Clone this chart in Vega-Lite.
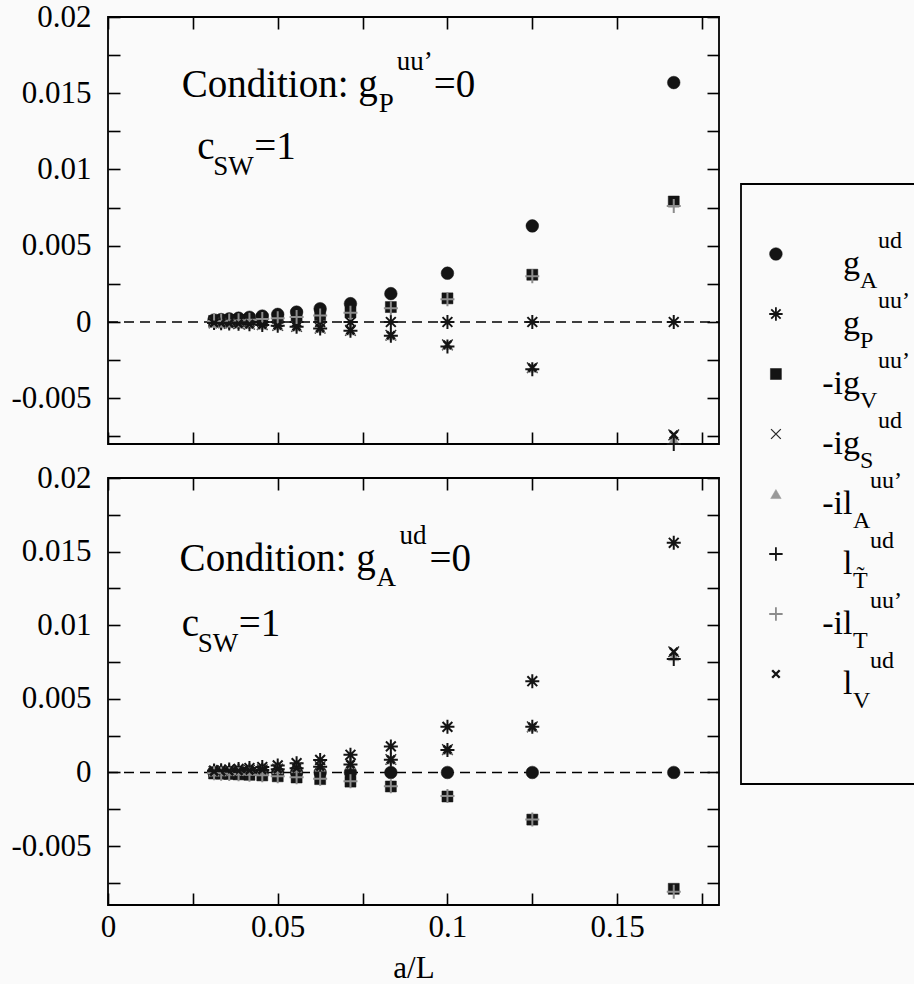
{
  "$schema": "https://vega.github.io/schema/vega-lite/v6.json",
  "background": "#fafafa",
  "padding": {"left": 10, "top": 0, "right": 0, "bottom": 0},
  "config": {
    "view": {"stroke": "black", "strokeWidth": 1.8},
    "font": "Liberation Serif",
    "text": {"font": "Liberation Serif", "color": "black"}
  },
  "datasets": {
    "pts": [
      {"p": "t", "aL": 0.16667, "gA": 0.0157, "gP": 0, "igV": 0.0079, "igS": -0.0074, "ilA": -0.0077, "lT": -0.008, "ilT": 0.0076, "lV": -0.0074},
      {"p": "t", "aL": 0.125, "gA": 0.0063, "gP": 0, "igV": 0.0031, "igS": -0.003, "ilA": -0.003, "lT": -0.0031, "ilT": 0.003, "lV": -0.003},
      {"p": "t", "aL": 0.1, "gA": 0.0032, "gP": 0, "igV": 0.00155, "igS": -0.0015, "ilA": -0.0015, "lT": -0.0016, "ilT": 0.0015, "lV": -0.0015},
      {"p": "t", "aL": 0.08333, "gA": 0.00186, "gP": 0, "igV": 0.00098, "igS": -0.00087, "ilA": -0.00088, "lT": -0.0009, "ilT": 0.0009, "lV": -0.00087},
      {"p": "t", "aL": 0.07143, "gA": 0.0012, "gP": 0, "igV": 0.00063, "igS": -0.00055, "ilA": -0.00056, "lT": -0.00058, "ilT": 0.0006, "lV": -0.00055},
      {"p": "t", "aL": 0.0625, "gA": 0.00087, "gP": 0, "igV": 0.00045, "igS": -0.0004, "ilA": -0.0004, "lT": -0.00042, "ilT": 0.00043, "lV": -0.0004},
      {"p": "t", "aL": 0.05556, "gA": 0.00065, "gP": 0, "igV": 0.00034, "igS": -0.0003, "ilA": -0.0003, "lT": -0.00031, "ilT": 0.00032, "lV": -0.0003},
      {"p": "t", "aL": 0.05, "gA": 0.0005, "gP": 0, "igV": 0.00026, "igS": -0.00023, "ilA": -0.00023, "lT": -0.00024, "ilT": 0.00025, "lV": -0.00023},
      {"p": "t", "aL": 0.04545, "gA": 0.00039, "gP": 0, "igV": 0.0002, "igS": -0.00018, "ilA": -0.00018, "lT": -0.00019, "ilT": 0.00019, "lV": -0.00018},
      {"p": "t", "aL": 0.04167, "gA": 0.00031, "gP": 0, "igV": 0.00016, "igS": -0.00014, "ilA": -0.00014, "lT": -0.00015, "ilT": 0.00015, "lV": -0.00014},
      {"p": "t", "aL": 0.03846, "gA": 0.00025, "gP": 0, "igV": 0.00013, "igS": -0.00011, "ilA": -0.00011, "lT": -0.00012, "ilT": 0.00012, "lV": -0.00011},
      {"p": "t", "aL": 0.03571, "gA": 0.0002, "gP": 0, "igV": 0.0001, "igS": -0.00009, "ilA": -0.00009, "lT": -0.0001, "ilT": 0.0001, "lV": -0.00009},
      {"p": "t", "aL": 0.03333, "gA": 0.00016, "gP": 0, "igV": 0.00008, "igS": -0.00007, "ilA": -0.00007, "lT": -0.00008, "ilT": 0.00008, "lV": -0.00007},
      {"p": "t", "aL": 0.03125, "gA": 0.00013, "gP": 0, "igV": 0.00007, "igS": -0.00006, "ilA": -0.00006, "lT": -0.00007, "ilT": 0.00006, "lV": -0.00006},
      {"p": "b", "aL": 0.16667, "gA": 0, "gP": 0.0156, "igV": -0.0079, "igS": 0.0082, "ilA": 0.0079, "lT": 0.0077, "ilT": -0.0081, "lV": 0.0082},
      {"p": "b", "aL": 0.125, "gA": 0, "gP": 0.0062, "igV": -0.0032, "igS": 0.0031, "ilA": 0.0031, "lT": 0.0031, "ilT": -0.0032, "lV": 0.0031},
      {"p": "b", "aL": 0.1, "gA": 0, "gP": 0.0031, "igV": -0.00163, "igS": 0.00155, "ilA": 0.00155, "lT": 0.00153, "ilT": -0.0016, "lV": 0.00155},
      {"p": "b", "aL": 0.08333, "gA": 0, "gP": 0.00177, "igV": -0.00095, "igS": 0.00088, "ilA": 0.00088, "lT": 0.00086, "ilT": -0.00093, "lV": 0.00088},
      {"p": "b", "aL": 0.07143, "gA": 0, "gP": 0.0012, "igV": -0.00062, "igS": 0.00056, "ilA": 0.00056, "lT": 0.00055, "ilT": -0.0006, "lV": 0.00056},
      {"p": "b", "aL": 0.0625, "gA": 0, "gP": 0.00085, "igV": -0.00045, "igS": 0.0004, "ilA": 0.0004, "lT": 0.00039, "ilT": -0.00043, "lV": 0.0004},
      {"p": "b", "aL": 0.05556, "gA": 0, "gP": 0.00063, "igV": -0.00034, "igS": 0.0003, "ilA": 0.0003, "lT": 0.00029, "ilT": -0.00032, "lV": 0.0003},
      {"p": "b", "aL": 0.05, "gA": 0, "gP": 0.00048, "igV": -0.00026, "igS": 0.00023, "ilA": 0.00023, "lT": 0.00022, "ilT": -0.00025, "lV": 0.00023},
      {"p": "b", "aL": 0.04545, "gA": 0, "gP": 0.00037, "igV": -0.0002, "igS": 0.00018, "ilA": 0.00018, "lT": 0.00017, "ilT": -0.00019, "lV": 0.00018},
      {"p": "b", "aL": 0.04167, "gA": 0, "gP": 0.0003, "igV": -0.00016, "igS": 0.00014, "ilA": 0.00014, "lT": 0.00014, "ilT": -0.00015, "lV": 0.00014},
      {"p": "b", "aL": 0.03846, "gA": 0, "gP": 0.00024, "igV": -0.00013, "igS": 0.00011, "ilA": 0.00011, "lT": 0.00011, "ilT": -0.00012, "lV": 0.00011},
      {"p": "b", "aL": 0.03571, "gA": 0, "gP": 0.0002, "igV": -0.0001, "igS": 0.00009, "ilA": 0.00009, "lT": 0.00009, "ilT": -0.0001, "lV": 0.00009},
      {"p": "b", "aL": 0.03333, "gA": 0, "gP": 0.00016, "igV": -0.00008, "igS": 0.00007, "ilA": 0.00007, "lT": 0.00007, "ilT": -0.00008, "lV": 0.00007},
      {"p": "b", "aL": 0.03125, "gA": 0, "gP": 0.00013, "igV": -0.00007, "igS": 0.00006, "ilA": 0.00006, "lT": 0.00006, "ilT": -0.00006, "lV": 0.00006}
    ],
    "leg": [
      {"s": "gA", "r": 1, "pre": "", "base": "g", "sub": "A", "sup": "ud"},
      {"s": "gP", "r": 2, "pre": "", "base": "g", "sub": "P", "sup": "uu’"},
      {"s": "igV", "r": 3, "pre": "-i", "base": "g", "sub": "V", "sup": "uu’"},
      {"s": "igS", "r": 4, "pre": "-i", "base": "g", "sub": "S", "sup": "ud"},
      {"s": "ilA", "r": 5, "pre": "-i", "base": "l", "sub": "A", "sup": "uu’"},
      {"s": "lT", "r": 6, "pre": "", "base": "l", "sub": "T̃", "sup": "ud"},
      {"s": "ilT", "r": 7, "pre": "-i", "base": "l", "sub": "T", "sup": "uu’"},
      {"s": "lV", "r": 8, "pre": "", "base": "l", "sub": "V", "sup": "ud"}
    ]
  },
  "hconcat": [
    {
      "spacing": 5,
      "vconcat": [
        {
          "width": 611,
          "height": 427,
          "resolve": {"axis": {"x": "independent", "y": "independent"}},
          "layer": [
            {
              "data": {"values": [{"z": 0}]},
              "mark": {"type": "rule", "strokeDash": [10, 6], "strokeWidth": 1.5, "color": "black"},
              "encoding": {
                "x": {"datum": 0, "type": "quantitative", "scale": {"domain": [0, 0.18], "nice": false, "zero": false},
                  "axis": {"orient": "top", "values": [0, 0.025, 0.05, 0.075, 0.1, 0.125, 0.15, 0.175], "labels": false, "domain": false, "grid": false, "title": null, "tickSize": -12, "tickColor": "black", "tickWidth": 1.6,
                    "encode": {"ticks": {"update": {"y2": {"signal": "abs(datum.value*20-round(datum.value*20))<0.000001 ? 25 : 12"}}}}}},
                "x2": {"datum": 0.18},
                "y": {"field": "z", "type": "quantitative", "scale": {"domain": [-0.008, 0.02], "nice": false, "zero": false},
                  "axis": {"orient": "right", "values": [-0.0075, -0.005, -0.0025, 0, 0.0025, 0.005, 0.0075, 0.01, 0.0125, 0.015, 0.0175, 0.02], "labels": false, "domain": false, "grid": false, "title": null, "tickSize": -12, "tickColor": "black", "tickWidth": 1.6,
                    "encode": {"ticks": {"update": {"x2": {"signal": "abs(datum.value*200-round(datum.value*200))<0.000001 ? -25 : -12"}}}}}}
              }
            },
            {
              "data": {"name": "pts"},
              "transform": [
                {"filter": "datum.p === 't'"},
                {"fold": ["gA", "gP", "igV", "igS", "ilA", "lT", "ilT", "lV"], "as": ["s", "y"]}
              ],
              "mark": {"type": "point", "filled": true, "opacity": 1},
              "encoding": {
                "x": {"field": "aL", "type": "quantitative", "scale": {"domain": [0, 0.18], "nice": false, "zero": false},
                  "axis": {"orient": "bottom", "values": [0, 0.025, 0.05, 0.075, 0.1, 0.125, 0.15, 0.175], "labels": false, "domain": false, "grid": false, "title": null, "tickSize": -12, "tickColor": "black", "tickWidth": 1.6,
                    "encode": {"ticks": {"update": {"y2": {"signal": "abs(datum.value*20-round(datum.value*20))<0.000001 ? -25 : -12"}}}}}},
                "y": {"field": "y", "type": "quantitative", "scale": {"domain": [-0.008, 0.02], "nice": false, "zero": false},
                  "axis": {"orient": "left", "values": [-0.0075, -0.005, -0.0025, 0, 0.0025, 0.005, 0.0075, 0.01, 0.0125, 0.015, 0.0175, 0.02], "domain": false, "grid": false, "title": null, "tickSize": -12, "tickColor": "black", "tickWidth": 1.6, "labelPadding": 29, "labelFont": "Liberation Serif", "labelFontSize": 31, "labelColor": "black", "labelOverlap": false,
                    "labelExpr": "abs(datum.value*200-round(datum.value*200))<0.000001 ? (datum.value < -0.000001 ? '-' + format(-datum.value,'~g') : format(abs(datum.value),'~g')) : ''",
                    "encode": {"ticks": {"update": {"x2": {"signal": "abs(datum.value*200-round(datum.value*200))<0.000001 ? 25 : 12"}}}}}},
                "shape": {"field": "s", "type": "nominal", "legend": null, "scale": {"domain": ["gA", "gP", "igV", "igS", "ilA", "lT", "ilT", "lV"], "range": ["circle", "M-1,0L1,0M0,-1L0,1M-0.7,-0.7L0.7,0.7M-0.7,0.7L0.7,-0.7", "square", "M-0.75,-0.75L0.75,0.75M-0.75,0.75L0.75,-0.75", "triangle-up", "M-1,0L1,0M0,-1L0,1", "M-1,0L1,0M0,-1L0,1", "M-0.75,-0.75L0.75,0.75M-0.75,0.75L0.75,-0.75"]}},
                "color": {"field": "s", "type": "nominal", "legend": null, "scale": {"domain": ["gA", "gP", "igV", "igS", "ilA", "lT", "ilT", "lV"], "range": ["#141414", "#141414", "#141414", "#2a2a2a", "#999999", "#141414", "#8c8c8c", "#141414"]}},
                "stroke": {"field": "s", "type": "nominal", "legend": null, "scale": {"domain": ["gA", "gP", "igV", "igS", "ilA", "lT", "ilT", "lV"], "range": ["#141414", "#141414", "#141414", "#2a2a2a", "#999999", "#141414", "#8c8c8c", "#141414"]}},
                "size": {"condition": [{"test": "datum.s === 'gA'", "value": 160}, {"test": "datum.s === 'igV'", "value": 121}, {"test": "datum.s === 'ilA'", "value": 110}, {"test": "datum.s === 'igS'", "value": 200}, {"test": "datum.s === 'lV'", "value": 110}], "value": 196},
                "strokeWidth": {"condition": [{"test": "datum.s === 'gA' || datum.s === 'igV' || datum.s === 'ilA'", "value": 0.5}, {"test": "datum.s === 'igS'", "value": 1.4}, {"test": "datum.s === 'lV'", "value": 2.6}], "value": 2}
              }
            },
            {
              "data": {"values": [{"t": "Condition: g"}]},
              "mark": {"type": "text", "align": "left", "baseline": "alphabetic", "fontSize": 39, "color": "black"},
              "encoding": {"x": {"datum": 0.0217, "type": "quantitative", "axis": null}, "y": {"datum": 0.01475, "type": "quantitative", "axis": null}, "text": {"field": "t"}}
            },
            {
              "data": {"values": [{"t": "P"}]},
              "mark": {"type": "text", "align": "left", "baseline": "alphabetic", "fontSize": 27, "dx": 197, "dy": 15, "color": "black"},
              "encoding": {"x": {"datum": 0.0217, "type": "quantitative", "axis": null}, "y": {"datum": 0.01475, "type": "quantitative", "axis": null}, "text": {"field": "t"}}
            },
            {
              "data": {"values": [{"t": "uu’"}]},
              "mark": {"type": "text", "align": "left", "baseline": "alphabetic", "fontSize": 27, "dx": 215, "dy": -27, "color": "black"},
              "encoding": {"x": {"datum": 0.0217, "type": "quantitative", "axis": null}, "y": {"datum": 0.01475, "type": "quantitative", "axis": null}, "text": {"field": "t"}}
            },
            {
              "data": {"values": [{"t": "=0"}]},
              "mark": {"type": "text", "align": "left", "baseline": "alphabetic", "fontSize": 39, "dx": 252, "color": "black"},
              "encoding": {"x": {"datum": 0.0217, "type": "quantitative", "axis": null}, "y": {"datum": 0.01475, "type": "quantitative", "axis": null}, "text": {"field": "t"}}
            },
            {
              "data": {"values": [{"t": "c"}]},
              "mark": {"type": "text", "align": "left", "baseline": "alphabetic", "fontSize": 39, "color": "black"},
              "encoding": {"x": {"datum": 0.0263, "type": "quantitative", "axis": null}, "y": {"datum": 0.01071, "type": "quantitative", "axis": null}, "text": {"field": "t"}}
            },
            {
              "data": {"values": [{"t": "SW"}]},
              "mark": {"type": "text", "align": "left", "baseline": "alphabetic", "fontSize": 27, "dx": 16, "dy": 16, "color": "black"},
              "encoding": {"x": {"datum": 0.0263, "type": "quantitative", "axis": null}, "y": {"datum": 0.01071, "type": "quantitative", "axis": null}, "text": {"field": "t"}}
            },
            {
              "data": {"values": [{"t": "=1"}]},
              "mark": {"type": "text", "align": "left", "baseline": "alphabetic", "fontSize": 39, "dx": 57, "color": "black"},
              "encoding": {"x": {"datum": 0.0263, "type": "quantitative", "axis": null}, "y": {"datum": 0.01071, "type": "quantitative", "axis": null}, "text": {"field": "t"}}
            }
          ]
        },
        {
          "width": 611,
          "height": 427,
          "resolve": {"axis": {"x": "independent", "y": "independent"}},
          "layer": [
            {
              "data": {"values": [{"z": 0}]},
              "mark": {"type": "rule", "strokeDash": [10, 6], "strokeWidth": 1.5, "color": "black"},
              "encoding": {
                "x": {"datum": 0, "type": "quantitative", "scale": {"domain": [0, 0.18], "nice": false, "zero": false},
                  "axis": {"orient": "top", "values": [0, 0.025, 0.05, 0.075, 0.1, 0.125, 0.15, 0.175], "labels": false, "domain": false, "grid": false, "title": null, "tickSize": -12, "tickColor": "black", "tickWidth": 1.6,
                    "encode": {"ticks": {"update": {"y2": {"signal": "abs(datum.value*20-round(datum.value*20))<0.000001 ? 25 : 12"}}}}}},
                "x2": {"datum": 0.18},
                "y": {"field": "z", "type": "quantitative", "scale": {"domain": [-0.009, 0.02], "nice": false, "zero": false},
                  "axis": {"orient": "right", "values": [-0.0075, -0.005, -0.0025, 0, 0.0025, 0.005, 0.0075, 0.01, 0.0125, 0.015, 0.0175, 0.02], "labels": false, "domain": false, "grid": false, "title": null, "tickSize": -12, "tickColor": "black", "tickWidth": 1.6,
                    "encode": {"ticks": {"update": {"x2": {"signal": "abs(datum.value*200-round(datum.value*200))<0.000001 ? -25 : -12"}}}}}}
              }
            },
            {
              "data": {"name": "pts"},
              "transform": [
                {"filter": "datum.p === 'b'"},
                {"fold": ["gA", "gP", "igV", "igS", "ilA", "lT", "ilT", "lV"], "as": ["s", "y"]}
              ],
              "mark": {"type": "point", "filled": true, "opacity": 1},
              "encoding": {
                "x": {"field": "aL", "type": "quantitative", "scale": {"domain": [0, 0.18], "nice": false, "zero": false},
                  "axis": {"orient": "bottom", "values": [0, 0.025, 0.05, 0.075, 0.1, 0.125, 0.15, 0.175], "domain": false, "grid": false, "tickSize": -12, "tickColor": "black", "tickWidth": 1.6, "labelPadding": 19, "labelFont": "Liberation Serif", "labelFontSize": 31, "labelColor": "black", "labelFlush": false, "labelOverlap": false,
                    "labelExpr": "abs(datum.value*20-round(datum.value*20))<0.000001 ? format(datum.value,'~g') : ''",
                    "title": "a/L", "titleFont": "Liberation Serif", "titleFontSize": 31, "titleFontWeight": "normal", "titleColor": "black", "titlePadding": 11,
                    "encode": {"ticks": {"update": {"y2": {"signal": "abs(datum.value*20-round(datum.value*20))<0.000001 ? -25 : -12"}}}}}},
                "y": {"field": "y", "type": "quantitative", "scale": {"domain": [-0.009, 0.02], "nice": false, "zero": false},
                  "axis": {"orient": "left", "values": [-0.0075, -0.005, -0.0025, 0, 0.0025, 0.005, 0.0075, 0.01, 0.0125, 0.015, 0.0175, 0.02], "domain": false, "grid": false, "title": null, "tickSize": -12, "tickColor": "black", "tickWidth": 1.6, "labelPadding": 29, "labelFont": "Liberation Serif", "labelFontSize": 31, "labelColor": "black", "labelOverlap": false,
                    "labelExpr": "abs(datum.value*200-round(datum.value*200))<0.000001 ? (datum.value < -0.000001 ? '-' + format(-datum.value,'~g') : format(abs(datum.value),'~g')) : ''",
                    "encode": {"ticks": {"update": {"x2": {"signal": "abs(datum.value*200-round(datum.value*200))<0.000001 ? 25 : 12"}}}}}},
                "shape": {"field": "s", "type": "nominal", "legend": null, "scale": {"domain": ["gA", "gP", "igV", "igS", "ilA", "lT", "ilT", "lV"], "range": ["circle", "M-1,0L1,0M0,-1L0,1M-0.7,-0.7L0.7,0.7M-0.7,0.7L0.7,-0.7", "square", "M-0.75,-0.75L0.75,0.75M-0.75,0.75L0.75,-0.75", "triangle-up", "M-1,0L1,0M0,-1L0,1", "M-1,0L1,0M0,-1L0,1", "M-0.75,-0.75L0.75,0.75M-0.75,0.75L0.75,-0.75"]}},
                "color": {"field": "s", "type": "nominal", "legend": null, "scale": {"domain": ["gA", "gP", "igV", "igS", "ilA", "lT", "ilT", "lV"], "range": ["#141414", "#141414", "#141414", "#2a2a2a", "#999999", "#141414", "#8c8c8c", "#141414"]}},
                "stroke": {"field": "s", "type": "nominal", "legend": null, "scale": {"domain": ["gA", "gP", "igV", "igS", "ilA", "lT", "ilT", "lV"], "range": ["#141414", "#141414", "#141414", "#2a2a2a", "#999999", "#141414", "#8c8c8c", "#141414"]}},
                "size": {"condition": [{"test": "datum.s === 'gA'", "value": 160}, {"test": "datum.s === 'igV'", "value": 121}, {"test": "datum.s === 'ilA'", "value": 110}, {"test": "datum.s === 'igS'", "value": 200}, {"test": "datum.s === 'lV'", "value": 110}], "value": 196},
                "strokeWidth": {"condition": [{"test": "datum.s === 'gA' || datum.s === 'igV' || datum.s === 'ilA'", "value": 0.5}, {"test": "datum.s === 'igS'", "value": 1.4}, {"test": "datum.s === 'lV'", "value": 2.6}], "value": 2}
              }
            },
            {
              "data": {"values": [{"t": "Condition: g"}]},
              "mark": {"type": "text", "align": "left", "baseline": "alphabetic", "fontSize": 39, "color": "black"},
              "encoding": {"x": {"datum": 0.0211, "type": "quantitative", "axis": null}, "y": {"datum": 0.01365, "type": "quantitative", "axis": null}, "text": {"field": "t"}}
            },
            {
              "data": {"values": [{"t": "A"}]},
              "mark": {"type": "text", "align": "left", "baseline": "alphabetic", "fontSize": 27, "dx": 197, "dy": 15, "color": "black"},
              "encoding": {"x": {"datum": 0.0211, "type": "quantitative", "axis": null}, "y": {"datum": 0.01365, "type": "quantitative", "axis": null}, "text": {"field": "t"}}
            },
            {
              "data": {"values": [{"t": "ud"}]},
              "mark": {"type": "text", "align": "left", "baseline": "alphabetic", "fontSize": 27, "dx": 220, "dy": -27, "color": "black"},
              "encoding": {"x": {"datum": 0.0211, "type": "quantitative", "axis": null}, "y": {"datum": 0.01365, "type": "quantitative", "axis": null}, "text": {"field": "t"}}
            },
            {
              "data": {"values": [{"t": "=0"}]},
              "mark": {"type": "text", "align": "left", "baseline": "alphabetic", "fontSize": 39, "dx": 250, "color": "black"},
              "encoding": {"x": {"datum": 0.0211, "type": "quantitative", "axis": null}, "y": {"datum": 0.01365, "type": "quantitative", "axis": null}, "text": {"field": "t"}}
            },
            {
              "data": {"values": [{"t": "c"}]},
              "mark": {"type": "text", "align": "left", "baseline": "alphabetic", "fontSize": 39, "color": "black"},
              "encoding": {"x": {"datum": 0.0217, "type": "quantitative", "axis": null}, "y": {"datum": 0.00924, "type": "quantitative", "axis": null}, "text": {"field": "t"}}
            },
            {
              "data": {"values": [{"t": "SW"}]},
              "mark": {"type": "text", "align": "left", "baseline": "alphabetic", "fontSize": 27, "dx": 16, "dy": 16, "color": "black"},
              "encoding": {"x": {"datum": 0.0217, "type": "quantitative", "axis": null}, "y": {"datum": 0.00924, "type": "quantitative", "axis": null}, "text": {"field": "t"}}
            },
            {
              "data": {"values": [{"t": "=1"}]},
              "mark": {"type": "text", "align": "left", "baseline": "alphabetic", "fontSize": 39, "dx": 57, "color": "black"},
              "encoding": {"x": {"datum": 0.0217, "type": "quantitative", "axis": null}, "y": {"datum": 0.00924, "type": "quantitative", "axis": null}, "text": {"field": "t"}}
            }
          ]
        }
      ]
    },
    {
      "width": 180,
      "height": 890,
      "view": {"stroke": null},
      "layer": [
        {
          "data": {"values": [{"b": 1}]},
          "mark": {"type": "rect", "fill": "transparent", "stroke": "black", "strokeWidth": 1.8},
          "encoding": {
            "x": {"datum": 0, "type": "quantitative", "scale": {"domain": [0, 1], "nice": false, "zero": false}, "axis": null},
            "x2": {"datum": 1.3},
            "y": {"datum": -0.167, "type": "quantitative", "scale": {"domain": [-2.95, 11.883], "reverse": true, "nice": false, "zero": false}, "axis": null},
            "y2": {"datum": 9.833}
          }
        },
        {
          "data": {"name": "leg"},
          "mark": {"type": "point", "filled": true, "opacity": 1},
          "encoding": {
            "x": {"datum": 0.194, "type": "quantitative", "axis": null},
            "y": {"field": "r", "type": "quantitative", "axis": null},
            "shape": {"field": "s", "type": "nominal", "legend": null, "scale": {"domain": ["gA", "gP", "igV", "igS", "ilA", "lT", "ilT", "lV"], "range": ["circle", "M-1,0L1,0M0,-1L0,1M-0.7,-0.7L0.7,0.7M-0.7,0.7L0.7,-0.7", "square", "M-0.75,-0.75L0.75,0.75M-0.75,0.75L0.75,-0.75", "triangle-up", "M-1,0L1,0M0,-1L0,1", "M-1,0L1,0M0,-1L0,1", "M-0.75,-0.75L0.75,0.75M-0.75,0.75L0.75,-0.75"]}},
            "color": {"field": "s", "type": "nominal", "legend": null, "scale": {"domain": ["gA", "gP", "igV", "igS", "ilA", "lT", "ilT", "lV"], "range": ["#141414", "#141414", "#141414", "#2a2a2a", "#999999", "#141414", "#8c8c8c", "#141414"]}},
            "stroke": {"field": "s", "type": "nominal", "legend": null, "scale": {"domain": ["gA", "gP", "igV", "igS", "ilA", "lT", "ilT", "lV"], "range": ["#141414", "#141414", "#141414", "#2a2a2a", "#999999", "#141414", "#8c8c8c", "#141414"]}},
            "size": {"condition": [{"test": "datum.s === 'gA'", "value": 160}, {"test": "datum.s === 'igV'", "value": 121}, {"test": "datum.s === 'ilA'", "value": 110}, {"test": "datum.s === 'igS'", "value": 170}, {"test": "datum.s === 'lV'", "value": 100}], "value": 180},
            "strokeWidth": {"condition": [{"test": "datum.s === 'gA' || datum.s === 'igV' || datum.s === 'ilA'", "value": 0.5}, {"test": "datum.s === 'igS'", "value": 1.3}, {"test": "datum.s === 'lV'", "value": 2.4}], "value": 1.8}
          }
        },
        {
          "data": {"name": "leg"},
          "transform": [{"filter": "datum.pre !== ''"}],
          "mark": {"type": "text", "align": "right", "baseline": "alphabetic", "fontSize": 34, "dy": 20, "color": "black"},
          "encoding": {"x": {"datum": 0.567, "type": "quantitative", "axis": null}, "y": {"field": "r", "type": "quantitative", "axis": null}, "text": {"field": "pre"}}
        },
        {
          "data": {"name": "leg"},
          "mark": {"type": "text", "align": "left", "baseline": "alphabetic", "fontSize": 34, "dy": 20, "color": "black"},
          "encoding": {"x": {"datum": 0.567, "type": "quantitative", "axis": null}, "y": {"field": "r", "type": "quantitative", "axis": null}, "text": {"field": "base"}}
        },
        {
          "data": {"name": "leg"},
          "transform": [{"filter": "datum.base === 'g'"}],
          "mark": {"type": "text", "align": "left", "baseline": "alphabetic", "fontSize": 24, "dx": 17, "dy": 34, "color": "black"},
          "encoding": {"x": {"datum": 0.567, "type": "quantitative", "axis": null}, "y": {"field": "r", "type": "quantitative", "axis": null}, "text": {"field": "sub"}}
        },
        {
          "data": {"name": "leg"},
          "transform": [{"filter": "datum.base === 'l'"}],
          "mark": {"type": "text", "align": "left", "baseline": "alphabetic", "fontSize": 24, "dx": 10, "dy": 34, "color": "black"},
          "encoding": {"x": {"datum": 0.567, "type": "quantitative", "axis": null}, "y": {"field": "r", "type": "quantitative", "axis": null}, "text": {"field": "sub"}}
        },
        {
          "data": {"name": "leg"},
          "transform": [{"filter": "datum.base === 'g'"}],
          "mark": {"type": "text", "align": "left", "baseline": "alphabetic", "fontSize": 24, "dx": 35, "dy": -6, "color": "black"},
          "encoding": {"x": {"datum": 0.567, "type": "quantitative", "axis": null}, "y": {"field": "r", "type": "quantitative", "axis": null}, "text": {"field": "sup"}}
        },
        {
          "data": {"name": "leg"},
          "transform": [{"filter": "datum.base === 'l'"}],
          "mark": {"type": "text", "align": "left", "baseline": "alphabetic", "fontSize": 24, "dx": 27, "dy": -6, "color": "black"},
          "encoding": {"x": {"datum": 0.567, "type": "quantitative", "axis": null}, "y": {"field": "r", "type": "quantitative", "axis": null}, "text": {"field": "sup"}}
        }
      ]
    }
  ],
  "spacing": 19
}
